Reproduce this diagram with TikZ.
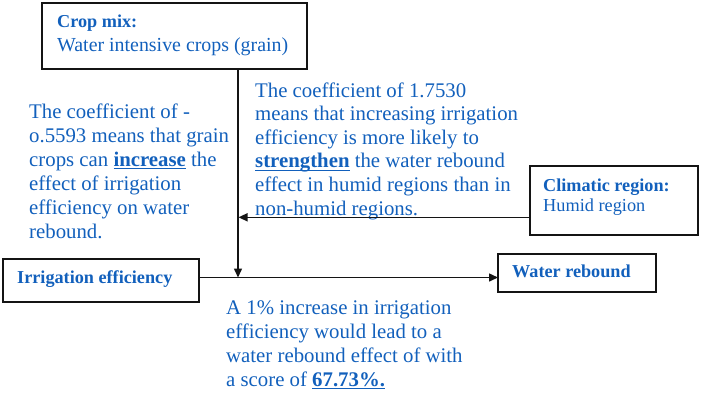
\documentclass[tikz,border=0pt]{standalone}
\usepackage{fontspec}
\setmainfont{Liberation Serif}
\usetikzlibrary{arrows.meta}
\definecolor{tblue}{RGB}{18,96,188}
\definecolor{lineblack}{RGB}{20,20,20}
\newcommand\myul[1]{\setbox0\hbox{#1}\rlap{\rule[-3pt]{\wd0}{1.3pt}}\box0\relax}
\tikzset{
  boxnode/.style={draw=lineblack, line width=1.6pt, inner sep=0pt, outer sep=0pt},
  conn/.style={draw=lineblack, line width=1.5pt, -{Triangle[length=9pt,width=8pt]}},
  labelbold/.style={text=tblue, inner sep=0pt, anchor=base west, font=\fontsize{18.2pt}{20pt}\selectfont\bfseries},
  labelreg/.style={text=tblue, inner sep=0pt, anchor=base west, font=\fontsize{18.3pt}{20pt}\selectfont},
  bodytext/.style={text=tblue, inner sep=0pt, anchor=base west, font=\fontsize{20.8pt}{24pt}\selectfont},
  bodytextb/.style={text=tblue, inner sep=0pt, anchor=base west, font=\fontsize{20.8pt}{23.6pt}\selectfont}
}
\begin{document}
\begin{tikzpicture}[x=1pt,y=-1pt]
\useasboundingbox (0,0) rectangle (702,392);

% boxes
\node[boxnode, minimum width=265pt, minimum height=66pt] (crop) at (174.5,36) {};
\node[boxnode, minimum width=168pt, minimum height=69pt] (clim) at (614,200.5) {};
\node[boxnode, minimum width=196pt, minimum height=43pt] (irr) at (101,280.5) {};
\node[boxnode, minimum width=158pt, minimum height=38pt] (wr) at (577,273) {};

% box texts
\node[labelbold] (croptitle) at (57,27.3) {Crop mix:};
\node[labelreg, font=\fontsize{19.9pt}{22pt}\selectfont] (cropsub) at (57,51.7) {Water intensive crops (grain)};
\node[labelbold] (climtitle) at (543,191.7) {Climatic region:};
\node[labelreg] (climsub) at (543,211.7) {Humid region};
\node[labelbold] (irrtext) at (17,283.3) {Irrigation efficiency};
\node[labelbold] (wrtext) at (512,277.7) {Water rebound};

% body texts
\node[bodytext] (lefttext) at (29,118) {\vtop{%
  \hbox{The coefficient of -}%
  \hbox{o.5593 means that grain}%
  \hbox{crops can \myul{\textbf{increase}} the}%
  \hbox{effect of irrigation}%
  \hbox{efficiency on water}%
  \hbox{rebound.}}};
\node[bodytextb] (righttext) at (255,97) {\vtop{%
  \hbox{The coefficient of 1.7530}%
  \hbox{means that increasing irrigation}%
  \hbox{efficiency is more likely to}%
  \hbox{\myul{\textbf{strengthen}} the water rebound}%
  \hbox{effect in humid regions than in}%
  \hbox{non-humid regions.}}};
\node[bodytext] (bottomtext) at (226,314) {\vtop{%
  \hbox{A 1\% increase in irrigation}%
  \hbox{efficiency would lead to a}%
  \hbox{water rebound effect of with}%
  \hbox{a score of \myul{\textbf{67.73\%.}}}}};

% connectors
\coordinate (j) at (238,277.5);
\coordinate (k) at (238.5,217.3);
\draw[conn] (crop.south -| j) -- (j);
\draw[conn] (irr.east |- j) -- (wr.west |- j);
\draw[conn] (clim.west |- k) -- (k);
\end{tikzpicture}
\end{document}
